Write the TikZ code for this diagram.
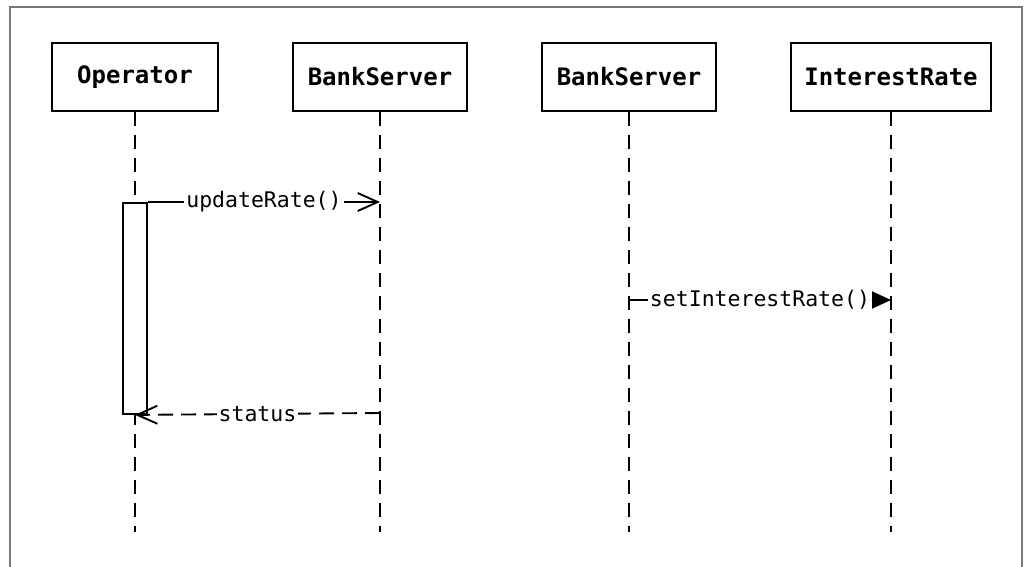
\documentclass[tikz,border=0pt]{standalone}
\usepackage{fontspec}
\setmonofont{DejaVu Sans Mono}
\usetikzlibrary{arrows.meta}
\definecolor{framegray}{RGB}{120,120,120}
\begin{document}
\begin{tikzpicture}[x=1pt,y=-1pt,
  participant/.style={draw, line width=1.9pt, minimum height=68pt, inner sep=0pt,
    font=\ttfamily\bfseries\fontsize{24}{28}\selectfont},
  lifeline/.style={line width=1.9pt, dash pattern=on 14pt off 9pt},
  activation/.style={draw, fill=white, line width=1.9pt, minimum width=24pt, inner sep=0pt, anchor=north},
  msg/.style={line width=1.9pt},
  reply/.style={line width=1.9pt, dash pattern=on 15pt off 8pt},
  opentip/.style={-{Straight Barb[length=20pt,width=18pt,line width=1.9pt]}},
  filledtip/.style={-{Triangle[length=19pt,width=17pt]}},
  lbl/.style={fill=white, inner xsep=2pt, inner ysep=1pt, font=\ttfamily\fontsize{21.5}{25}\selectfont}]
\useasboundingbox (0,0) rectangle (1036,567);
\fill[white] (0,0) rectangle (1036,567);
\draw[framegray, line width=1.2pt] (10,7) rectangle (1022,600);

% participants
\node[participant, minimum width=166pt] (op)  at (135,77) {Operator};
\node[participant, minimum width=174pt] (bs1) at (380,77) {BankServer};
\node[participant, minimum width=174pt] (bs2) at (629,77) {BankServer};
\node[participant, minimum width=200pt] (ir)  at (891,77) {InterestRate};

% lifeline ends
\coordinate (opEnd)  at (135,532);
\coordinate (bs1End) at (380,532);
\coordinate (bs2End) at (629,532);
\coordinate (irEnd)  at (891,532);

\draw[lifeline] (op.south)  -- (opEnd);
\draw[lifeline] (bs1.south) -- (bs1End);
\draw[lifeline] (bs2.south) -- (bs2End);
\draw[lifeline] (ir.south)  -- (irEnd);

% activation bar
\node[activation, minimum height=211pt] (act) at (135,202) {};

% message points
\coordinate (m1e) at (380,202);
\coordinate (m2s) at (629,300);
\coordinate (m2e) at (891,300);
\coordinate (m3s) at (380,413);

\draw[msg, opentip] (act.north east) -- (m1e) node[lbl, midway] {updateRate()};
\draw[msg, filledtip] (m2s) -- (m2e) node[lbl, midway] {setInterestRate()};
\draw[reply, opentip] (m3s) -- (act.south) node[lbl, midway] {status};
\end{tikzpicture}
\end{document}
